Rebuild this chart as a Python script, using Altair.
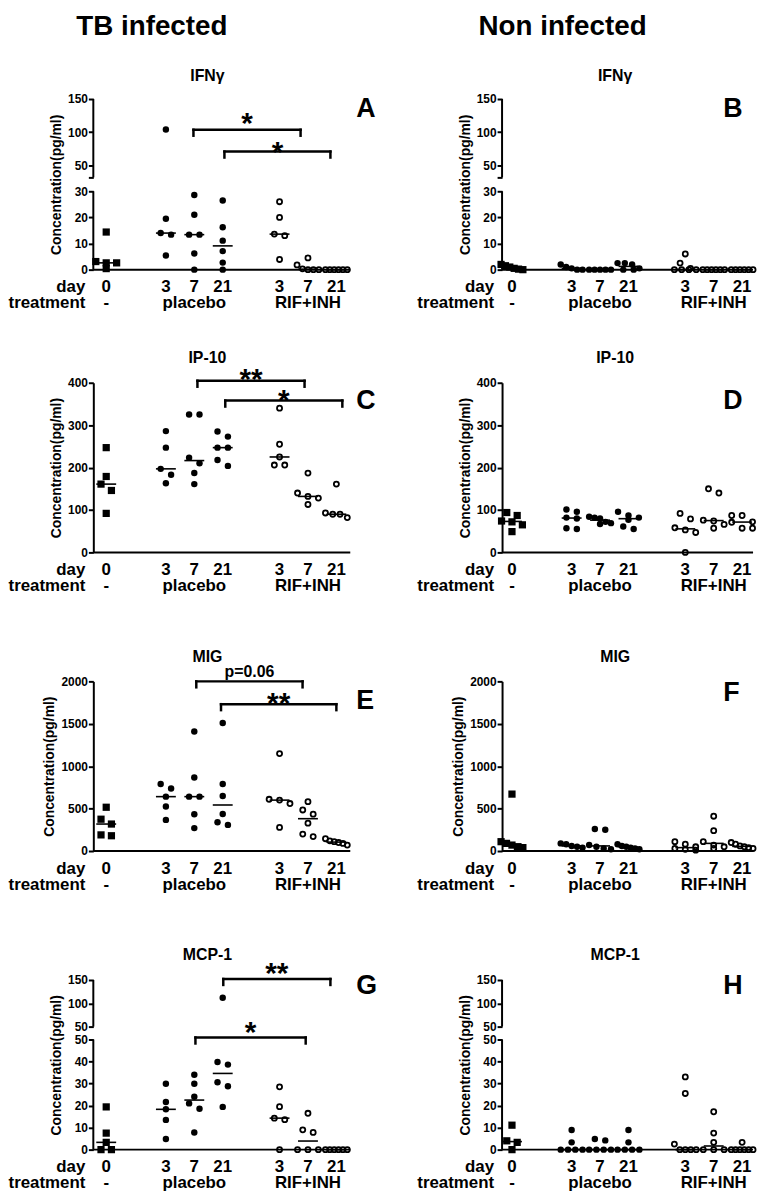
import altair as alt
import pandas as pd
import numpy as np

FONT = "Liberation Sans"

# ---------------- category layout (x) ----------------
GROUP_POS = [0, 2.1, 3.1, 4.1, 6.1, 7.1, 8.1]
DAY_LABELS = ["0", "3", "7", "21", "3", "7", "21"]
GROUP_KIND = ["square", "dot", "dot", "dot", "open", "open", "open"]
TREAT_LABELS = ["-", "placebo", "RIF+INH"]
TREAT_POS = [0, 3.1, 7.1]

# ---------------- data (pg/ml), groups: day0 | placebo 3,7,21 | RIF+INH 3,7,21 ----------------
IFNG_TB = [
    [14.4, 3.1, 2.6, 2.6, 0.4],
    [104, 19.5, 14.0, 13.4, 5.4],
    [28.6, 21.0, 13.4, 13.4, 6.2, 0.0],
    [26.5, 16.2, 11.1, 7.1, 2.7, 0.0],
    [26.0, 20.0, 13.6, 13.0, 3.9],
    [4.5, 1.8, 0.3, 0.0, 0.0, 0.0],
    [0.0, 0.0, 0.0, 0.0, 0.0, 0.0],
]
IFNG_NON = [
    [2.0, 1.5, 1.0, 0.5, 0.2, 0.0],
    [2.0, 1.0, 0.5, 0.0, 0.0],
    [0.0, 0.0, 0.0, 0.0, 0.0],
    [2.5, 2.5, 2.0, 0.5, 0.0, 0.0],
    [6.0, 2.5, 0.5, 0.0, 0.0, 0.0, 0.0],
    [0.0, 0.0, 0.0, 0.0, 0.0, 0.0],
    [0.0, 0.0, 0.0, 0.0, 0.0, 0.0],
]
IP10_TB = [
    [247, 179, 161, 146, 92],
    [286, 247, 197, 183, 163],
    [325, 325, 223, 210, 187, 161],
    [285, 273, 247, 247, 218, 204],
    [340, 255, 225, 206, 206],
    [187, 140, 132, 128, 113],
    [161, 93, 90, 90, 82],
]
IP10_NON = [
    [94, 87, 74, 72, 65, 49],
    [101, 96, 82, 80, 57, 55],
    [84, 82, 80, 72, 69, 67],
    [96, 87, 82, 77, 61, 55],
    [92, 79, 58, 53, 47, 0],
    [150, 140, 76, 74, 66, 57],
    [87, 87, 72, 71, 57, 57],
]
MIG_TB = [
    [516, 375, 318, 190, 180],
    [789, 738, 641, 524, 367],
    [1409, 866, 641, 641, 434, 270],
    [1509, 789, 648, 437, 340, 308],
    [1149, 610, 600, 560, 278],
    [582, 484, 434, 328, 200, 170],
    [145, 120, 110, 100, 90, 70],
]
MIG_NON = [
    [671, 110, 90, 70, 50, 40],
    [90, 80, 60, 50, 40],
    [260, 250, 70, 50, 30, 20],
    [80, 60, 50, 40, 30, 20],
    [110, 80, 50, 30, 20, 10],
    [410, 240, 110, 70, 50, 30],
    [100, 80, 60, 50, 40, 30],
]
MCP1_TB = [
    [19.4, 7.5, 3.3, 0.0, 0.0],
    [29.9, 21.6, 18.3, 13.5, 4.8],
    [34.0, 29.9, 24.0, 21.0, 18.6, 7.8],
    [112, 39.8, 38.6, 30.6, 28.8, 19.4],
    [28.5, 19.5, 14.3, 13.6, 0.0],
    [16.5, 9.0, 7.8, 0.0, 0.0, 0.0],
    [0.0, 0.0, 0.0, 0.0, 0.0, 0.0],
]
MCP1_NON = [
    [11.1, 4.0, 3.3, 0.0],
    [8.9, 3.3, 0.0, 0.0, 0.0, 0.0],
    [4.8, 4.2, 0.0, 0.0, 0.0, 0.0],
    [8.9, 3.3, 0.0, 0.0, 0.0, 0.0],
    [33.0, 25.5, 2.5, 0.0, 0.0, 0.0, 0.0],
    [17.2, 7.5, 3.3, 0.0, 0.0, 0.0],
    [3.3, 0.0, 0.0, 0.0, 0.0, 0.0, 0.0],
]

# significance brackets: (x from, x to, bar offset px, label, label baseline offset px)
BR_A = [(3.07, 6.84, 31, "*", 34), (4.16, 7.89, 53, "*", 63)]
BR_C = [(3.21, 6.98, -2, "**", 6), (4.19, 8.31, 18, "*", 27)]
BR_E = [(3.17, 6.91, 0, "p=0.06", -4), (4.04, 8.10, 23, "**", 32)]
BR_G = [(4.12, 7.89, -1, "**", 3), (3.14, 7.02, 58, "*", 63)]

# ---------------- layout ----------------
COLS = {
    "L": {"width": 259, "xdomain": [-0.454, 8.589], "title_x": 115, "letter_x": 265, "header_x": 59},
    "R": {"width": 253, "xdomain": [-0.349, 8.485], "title_x": 114, "letter_x": 223, "header_x": 61},
}
ROWS = {
    1: {"height": 156, "zero_px": 172, "domain": [0, 30, 32, 150], "range": [172, 93, 79, 0],
        "ticks": [0, 10, 20, 30, 32, 50, 100, 150], "segments": [(0, 30), (32, 150)],
        "labelExpr": "datum.value == 32 ? '' : datum.label", "titleY": 86, "title_y": -18},
    2: {"height": 171, "zero_px": 171, "domain": [0, 400], "range": None,
        "ticks": [0, 100, 200, 300, 400], "segments": None, "title_y": -20},
    3: {"height": 171, "zero_px": 171, "domain": [0, 2000], "range": None,
        "ticks": [0, 500, 1000, 1500, 2000], "segments": None, "title_y": -20},
    4: {"height": 171, "zero_px": 171, "domain": [0, 50, 50.01, 150], "range": [171, 60, 47, 0],
        "ticks": [0, 10, 20, 30, 40, 50, 50.01, 100, 150], "segments": [(0, 50), (50.01, 150)],
        "title_y": -20},
}


def swarm(vals, to_px, unit):
    order = sorted(range(len(vals)), key=lambda i: -vals[i])
    rows = []
    for i in order:
        p = float(to_px(vals[i]))
        if rows and abs(p - rows[-1][0]) < 6.5:
            rows[-1][1].append(i)
        else:
            rows.append([p, [i]])
    offs = [0.0] * len(vals)
    for _, idx in rows:
        n = len(idx)
        if n > 1:
            step = min(10.5, 22.0 / (n - 1))
            for k, i in enumerate(idx):
                offs[i] = (k - (n - 1) / 2) * step / unit
    return offs


ONE = pd.DataFrame({"k": [0]})


def px_text(px, py, t, size, align="center"):
    return alt.Chart(ONE).mark_text(
        text=t, font=FONT, fontSize=size, fontWeight="bold", align=align,
        baseline="alphabetic", color="black"
    ).encode(x=alt.value(px), y=alt.value(py))


def data_text(xv, py, tv, xs, size):
    df = pd.DataFrame({"x": xv, "t": tv})
    return alt.Chart(df).mark_text(
        font=FONT, fontSize=size, fontWeight="bold", align="center",
        baseline="alphabetic", color="black"
    ).encode(x=alt.X("x:Q", scale=xs, axis=None), y=alt.value(py), text="t:N")


def panel(vals, col, row, title, letter, letter_y, brackets, header=None):
    c = COLS[col]
    r = ROWS[row]
    W, H, Z = c["width"], r["height"], r["zero_px"]
    xd = c["xdomain"]
    xs = alt.Scale(domain=xd, nice=False, zero=False)
    if r["range"] is not None:
        ys = alt.Scale(domain=r["domain"], range=r["range"], nice=False, zero=False)
        prng = r["range"]
    else:
        ys = alt.Scale(domain=r["domain"], nice=False, zero=False)
        prng = [H, 0]
    unit = W / (xd[1] - xd[0])
    to_px = lambda v: np.interp(v, r["domain"], prng)

    recs, meds = [], []
    for g, vs in enumerate(vals):
        offs = swarm(vs, to_px, unit)
        for v, o in zip(vs, offs):
            recs.append({"x": GROUP_POS[g] + o, "y": v, "kind": GROUP_KIND[g]})
        m = float(np.median(vs))
        meds.append({"x": GROUP_POS[g] - 0.35, "x2": GROUP_POS[g] + 0.35, "y": m})
    pts = pd.DataFrame(recs)
    med = pd.DataFrame(meds)

    axis_kw = dict(
        values=r["ticks"], tickCount=50, domain=r["segments"] is None, domainWidth=2,
        domainColor="black", ticks=True, tickSize=5, tickWidth=2, tickColor="black", grid=False,
        labelFont=FONT, labelFontSize=12, labelFontWeight="bold", labelColor="black",
        labelPadding=1, labelOverlap=False, format="d",
        title="Concentration(pg/ml)", titleFont=FONT, titleFontSize=14,
        titleFontWeight="bold", titleColor="black", titlePadding=4,
    )
    if "labelExpr" in r:
        axis_kw["labelExpr"] = r["labelExpr"]
    if "titleY" in r:
        axis_kw["titleY"] = r["titleY"]

    X = lambda f: alt.X(f, scale=xs, axis=None)
    Y = lambda f: alt.Y(f, scale=ys)

    layers = []
    bp = alt.Chart(pts)
    # squares carry the y axis
    layers.append(bp.transform_filter("datum.kind == 'square'").mark_point(
        shape="square", filled=True, size=53, color="black", opacity=1).encode(
        x=X("x:Q"), y=alt.Y("y:Q", scale=ys, axis=alt.Axis(**axis_kw))))
    if r["segments"] is not None:
        seg = pd.DataFrame({"x": [xd[0]] * len(r["segments"]),
                            "y": [s[0] for s in r["segments"]],
                            "y2": [s[1] for s in r["segments"]]})
        layers.append(alt.Chart(seg).mark_rule(color="black", strokeWidth=2).encode(
            x=X("x:Q"), y=Y("y:Q"), y2="y2:Q"))
    base_df = pd.DataFrame({"x": [xd[0]], "x2": [xd[1]], "y": [0]})
    layers.append(alt.Chart(base_df).mark_rule(color="black", strokeWidth=2).encode(
        x=X("x:Q"), x2="x2:Q", y=Y("y:Q")))
    layers.append(bp.transform_filter("datum.kind == 'dot'").mark_circle(
        size=42, color="black", opacity=1).encode(x=X("x:Q"), y=Y("y:Q")))
    layers.append(bp.transform_filter("datum.kind == 'open'").mark_point(
        shape="circle", filled=False, size=26, color="black", strokeWidth=1.8, opacity=1).encode(
        x=X("x:Q"), y=Y("y:Q")))
    layers.append(alt.Chart(med).mark_rule(color="black", strokeWidth=1.6).encode(
        x=X("x:Q"), x2="x2:Q", y=Y("y:Q")))

    for b in brackets:
        bar = pd.DataFrame({"x1": [b[0]], "x2": [b[1]]})
        layers.append(alt.Chart(bar).mark_rule(color="black", strokeWidth=2.5, strokeCap="square").encode(
            x=X("x1:Q"), x2="x2:Q", y=alt.value(b[2])))
        ends = pd.DataFrame({"x": [b[0], b[1]]})
        layers.append(alt.Chart(ends).mark_rule(color="black", strokeWidth=2.5, strokeCap="square").encode(
            x=X("x:Q"), y=alt.value(b[2]), y2=alt.value(b[2] + 6)))
        big = b[3].startswith("*")
        layers.append(data_text([(b[0] + b[1]) / 2], b[4], [b[3]], xs, 30 if big else 16))

    layers.append(data_text(GROUP_POS, Z + 23, DAY_LABELS, xs, 17))
    layers.append(data_text(TREAT_POS, Z + 39, TREAT_LABELS, xs, 17))
    layers.append(px_text(-8, Z + 23, "day", 17, align="right"))
    layers.append(px_text(-8, Z + 39, "treatment", 17, align="right"))
    layers.append(px_text(c["title_x"], r["title_y"], title, 16))
    layers.append(px_text(c["letter_x"], letter_y, letter, 27, align="left"))
    if header:
        layers.append(px_text(c["header_x"], -65, header, 28))

    return alt.layer(*layers).properties(width=W, height=H)


panels = [
    panel(IFNG_TB, "L", 1, "IFNγ", "A", 18, BR_A, "TB infected"),
    panel(IFNG_NON, "R", 1, "IFNγ", "B", 18, [], "Non infected"),
    panel(IP10_TB, "L", 2, "IP-10", "C", 26, BR_C),
    panel(IP10_NON, "R", 2, "IP-10", "D", 26, []),
    panel(MIG_TB, "L", 3, "MIG", "E", 28, BR_E),
    panel(MIG_NON, "R", 3, "MIG", "F", 20, []),
    panel(MCP1_TB, "L", 4, "MCP-1", "G", 14, BR_G),
    panel(MCP1_NON, "R", 4, "MCP-1", "H", 14, []),
]

chart = alt.concat(
    *panels, columns=2, spacing={"row": 130, "column": 153}, bounds="flush"
).properties(padding=0).configure(font=FONT, view=alt.ViewConfig(stroke=None))

chart.save("out.html", embed_options={"renderer": "svg", "actions": False})
